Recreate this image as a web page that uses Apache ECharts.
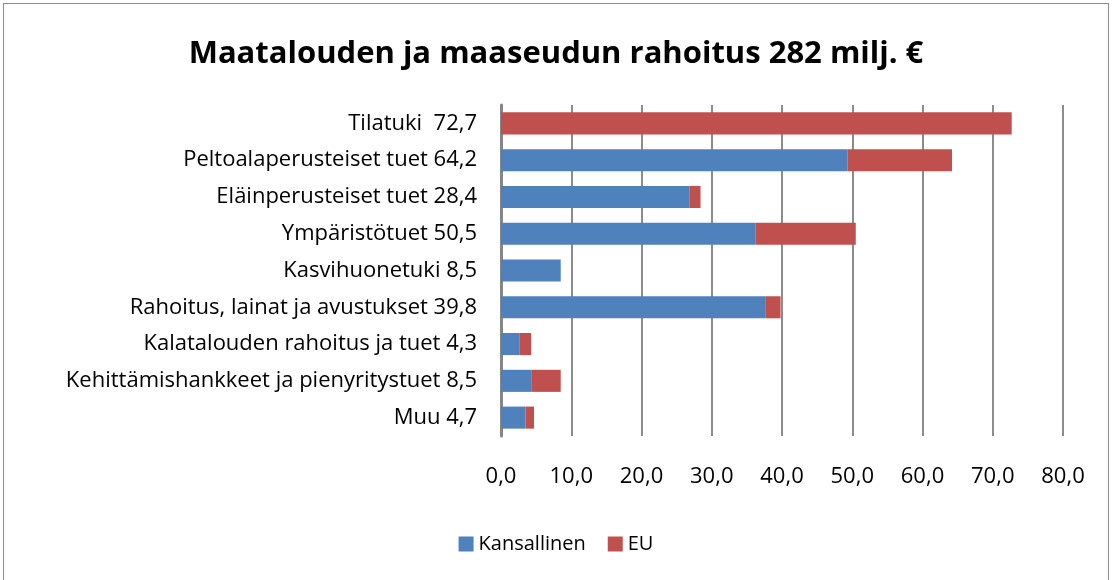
<!DOCTYPE html>
<html>
<head>
<meta charset="utf-8">
<script src="https://cdn.jsdelivr.net/npm/echarts@6/dist/echarts.min.js"></script>
<style>
  html, body { margin: 0; padding: 0; background: #fff; }
  #chart { position: absolute; left: 3px; top: 3px; width: 1106px; height: 580px;
           border: 1px solid #8c8c8c; box-sizing: border-box; }
</style>
</head>
<body>
<div id="chart"></div>
<script>
var categories = ['Tilatuki  72,7', 'Peltoalaperusteiset tuet 64,2', 'Eläinperusteiset tuet 28,4',
  'Ympäristötuet 50,5', 'Kasvihuonetuki 8,5', 'Rahoitus, lainat ja avustukset 39,8',
  'Kalatalouden rahoitus ja tuet 4,3', 'Kehittämishankkeet ja pienyritystuet 8,5', 'Muu 4,7']
var kansallinen = [0, 49.3, 26.8, 36.2, 8.5, 37.7, 2.6, 4.3, 3.5]
var eu = [72.7, 14.9, 1.6, 14.3, 0, 2.1, 1.7, 4.2, 1.2]

var chart = echarts.init(document.getElementById('chart'))
var font = 'Open Sans'
chart.setOption({
  animation: false,
  title: {
    text: 'Maatalouden ja maaseudun rahoitus 282 milj. €',
    left: 'center', top: 30,
    textStyle: { fontFamily: font, fontWeight: 'bold', fontSize: 31, color: '#000' }
  },
  legend: {
    bottom: 23, left: 'center',
    itemWidth: 15, itemHeight: 15, itemGap: 22,
    icon: 'rect',
    textStyle: { fontFamily: font, fontSize: 20, color: '#000' },
    data: ['Kansallinen', 'EU']
  },
  grid: { left: 497, right: 45, top: 101, bottom: 146, containLabel: false },
  xAxis: {
    type: 'value', min: 0, max: 80, interval: 10,
    axisLine: { show: false },
    axisTick: { show: false },
    axisLabel: {
      margin: 30, fontFamily: font, fontSize: 22, color: '#000',
      formatter: function (v) { return v.toFixed(1).replace('.', ',') }
    },
    splitLine: { lineStyle: { color: '#8c8c8c', width: 2 } }
  },
  yAxis: {
    type: 'category', inverse: true, data: categories,
    axisLine: { lineStyle: { color: '#868686', width: 3 } },
    axisTick: { show: false },
    axisLabel: { margin: 24, fontFamily: font, fontSize: 22, color: '#000' }
  },
  series: [
    { name: 'Kansallinen', type: 'bar', stack: 't', data: kansallinen, barCategoryGap: '40%',
      itemStyle: { color: '#4F81BD' } },
    { name: 'EU', type: 'bar', stack: 't', data: eu,
      itemStyle: { color: '#C0504D' } }
  ]
})
</script>
</body>
</html>
